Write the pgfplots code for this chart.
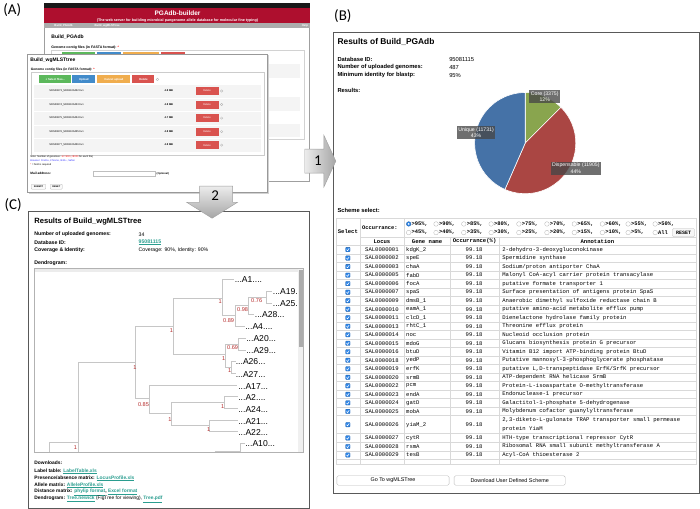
\documentclass[border=0pt]{standalone}
\usepackage{pgfplots}
\pgfplotsset{compat=1.18}
\usepackage{pgfplotstable}
\usepackage{fontspec}
\setmainfont{Liberation Sans}
\setmonofont{Liberation Mono}
\newfontfamily\carl{Carlito}
\newcommand\fs[1]{\fontsize{#1}{#1}\selectfont}
\definecolor{pgred}{HTML}{AE0F2E}
\definecolor{hcblue}{HTML}{4572A7}
\definecolor{hcred}{HTML}{AA4643}
\definecolor{hcgreen}{HTML}{89A54E}
\definecolor{linkteal}{HTML}{2A9D8F}
\definecolor{treered}{HTML}{B52A2A}
\definecolor{btngreen}{HTML}{5CB85C}
\definecolor{btnblue}{HTML}{428BCA}
\definecolor{btnorange}{HTML}{F0AD4E}
\definecolor{btnred}{HTML}{D9534F}
\definecolor{chkblue}{HTML}{2F86E8}
\pgfplotstableread{
name value
Core 3375
Dispensable 11905
Unique 11731
}\piedata
\newcommand\chk[1]{\filldraw[fill=chkblue,draw=chkblue!70!black,line width=0.3bp,rounded corners=0.6bp] (343.8,#1-2.2) rectangle (348.2,#1+2.2);\draw[white,line width=0.5bp] (344.7,#1+0.1) -- (345.7,#1+1.2) -- (347.4,#1-1.3);}
\newcommand\trow[4]{\chk{#1}\node[mono] at (380,#1) {#2};\node[mono,anchor=west] at (404,#1) {#3};\node[mono] at (472,#1) {99.18};\node[mono,anchor=west] at (500,#1) {#4};}
\newcommand\radio[3]{\draw[gray!60,fill=white,line width=0.3bp] (#1,#2) circle[radius=2.3bp];\node[anchor=west,inner sep=0pt,font=\fs{5.4}\ttfamily\bfseries] at (#1+2.8,#2) {#3};}
\newcommand\frow[3]{\fill[gray!9] (33,#1-6) rectangle (259,#1+6.5);\node[anchor=west,inner sep=0pt,font=\fs{2.6}] at (48,#1) {#2};\node[anchor=west,inner sep=0pt,font=\fs{2.6}\bfseries] at (163,#1) {#3};\fill[btnred] (194,#1-4) rectangle (217,#1+4);\node[font=\fs{2.6},white,inner sep=0pt] at (205.5,#1) {Delete};\draw[gray!60,line width=0.3bp] (220,#1) circle[radius=1.2bp];}
\begin{document}
\begin{tikzpicture}[
  tx/.style={anchor=west,inner sep=0pt},
  mono/.style={inner sep=0pt,font=\fs{5.6}\ttfamily},
  treeline/.style={color=gray!45,line width=0.8bp,no markers},
  bs/.style={inner sep=0pt,font=\fs{5.6},text=treered},
  leaf/.style={anchor=west,inner sep=0pt,font=\fs{8.6}},
  pielab/.style={fill=black!72,fill opacity=0.78,text opacity=1,text=white,inner sep=1.5bp,align=center,font=\fs{5.2}}]
\pgfplotstablegetelem{0}{value}\of\piedata \let\vA\pgfplotsretval
\pgfplotstablegetelem{1}{value}\of\piedata \let\vB\pgfplotsretval
\pgfplotstablegetelem{2}{value}\of\piedata \let\vC\pgfplotsretval
\pgfmathsetmacro\tot{\vA/1000+\vB/1000+\vC/1000}
\pgfmathsetmacro\aA{90-360*(\vA/1000)/\tot}
\pgfmathsetmacro\aB{\aA-360*(\vB/1000)/\tot}
\begin{axis}[scale only axis, width=700bp, height=508bp,
  xmin=0, xmax=700, ymin=0, ymax=508, y dir=reverse,
  hide axis, clip=false]
% ================= PANEL A =================
\node[font=\carl\fs{15}] at (11,9) {(A)};
% back window
\filldraw[fill=white,draw=gray!75,line width=0.6bp] (43,2) rectangle (308,180);
\fill[black!90] (43,2) rectangle (308,7);
\fill[pgred] (43,7) rectangle (308,22);
\node[font=\fs{6.5}\bfseries,white] at (176,12.5) {PGAdb-builder};
\node[font=\fs{3.7}\bfseries,white] at (176,19.3) {(The web server for building microbial pangenome allele database for molecular fine typing)};
\fill[gray!65] (43,22) rectangle (308,27);
\node[tx,font=\fs{2.8}\bfseries,white] at (53,24.5) {Build\_PGAdb};
\node[tx,font=\fs{2.8}\bfseries,white] at (93,24.5) {Build\_wgMLSTtree};
\node[tx,font=\fs{2.8}\bfseries,white] at (300,24.5) {Help};
\node[tx,font=\fs{5}\bfseries] at (50,36) {Build\_PGAdb};
\node[tx,font=\fs{3.5}\bfseries] at (50,47) {Genome contig files (in FASTA format): \textcolor{red}{*}};
\draw[gray!35,line width=0.5bp] (50,49.5) rectangle (302,138);
\fill[btngreen] (61,51) rectangle (94,56);
\fill[btnblue] (96,51) rectangle (120,56);
\fill[btnorange] (122,51) rectangle (158,56);
\fill[btnred] (160,51) rectangle (183,56);
\fill[gray!9] (265,63) rectangle (298,77);
\fill[gray!9] (265,96) rectangle (298,110);
\fill[gray!9] (265,123) rectangle (298,136);
% front window
\fill[gray!35] (27.5,54.5) rectangle (267.5,192.5);
\filldraw[fill=white,draw=gray!80,line width=0.6bp] (26,53) rectangle (266,191);
\node[tx,font=\fs{5}\bfseries] at (29,59.5) {Build\_wgMLSTtree};
\node[tx,font=\fs{3.3}\bfseries] at (29.5,69) {Genome contig files (in FASTA format): \textcolor{red}{*}};
\draw[gray!40,line width=0.5bp] (30,71) rectangle (263,154);
\fill[btngreen] (38,74.5) rectangle (70,82.5);
\node[font=\fs{2.8}\bfseries,white] at (54,78.5) {+ Select files...};
\fill[btnblue] (71,74.5) rectangle (94,82.5);
\node[font=\fs{2.8}\bfseries,white] at (82.5,78.5) {Upload};
\fill[btnorange] (96,74.5) rectangle (129,82.5);
\node[font=\fs{2.8}\bfseries,white] at (112.5,78.5) {Cancel upload};
\fill[btnred] (131,74.5) rectangle (153,82.5);
\node[font=\fs{2.8}\bfseries,white] at (142,78.5) {Delete};
\draw[gray!60,line width=0.3bp] (156,78.5) circle[radius=1.3bp];
\frow{90}{SRS00673\_SRR1106432.fa.1}{4.8 MB}
\frow{103.5}{SRS00674\_SRR1106433.fa.1}{4.8 MB}
\frow{117}{SRS00675\_SRR1106434.fa.1}{4.7 MB}
\frow{130.5}{SRS00676\_SRR1106435.fa.1}{4.8 MB}
\frow{144}{SRS00677\_SRR1106436.fa.1}{4.8 MB}
\node[tx,font=\fs{2.5}] at (29,156) {Note: Number of genomes: \textcolor{red}{3<=500 (<8000} for each file)};
\node[tx,font=\fs{2.5},text=blue!80] at (29,160) {Browser: Firefox, Chrome, IE11+, Safari};
\node[tx,font=\fs{2.5}] at (29,164) {\textcolor{red}{*} = field is required};
\node[tx,font=\fs{3.2}\bfseries] at (29,172) {Mail address:};
\draw[gray!50,line width=0.3bp] (92,170) rectangle (154,174.5);
\node[tx,font=\fs{2.6}\bfseries] at (155,172.3) {(Optional)};
\draw[gray!55,fill=gray!5,line width=0.3bp,rounded corners=0.8bp] (30,183) rectangle (44.5,188);
\node[font=\fs{2.4}\bfseries] at (37.2,185.5) {SUBMIT};
\draw[gray!55,fill=gray!5,line width=0.3bp,rounded corners=0.8bp] (49,183) rectangle (61,188);
\node[font=\fs{2.4}\bfseries] at (55,185.5) {RESET};
% ================= PANEL B =================
\node[font=\carl\fs{15}] at (341,15) {(B)};
\draw[gray!70!black,line width=0.9bp] (332,32) rectangle (697,492);
\node[tx,font=\fs{8.4}\bfseries] at (335.5,41) {Results of Build\_PGAdb};
\node[tx,font=\fs{5.8}\bfseries] at (335.5,58.5) {Database ID:};
\node[tx,font=\fs{5.8}\bfseries] at (335.5,66.5) {Number of uploaded genomes:};
\node[tx,font=\fs{5.8}\bfseries] at (335.5,74.5) {Minimum identity for blastp:};
\node[tx,font=\fs{5.8}] at (447,58.5) {95081115};
\node[tx,font=\fs{5.8}] at (447,66.5) {487};
\node[tx,font=\fs{5.8}] at (447,74.5) {95\%};
\node[tx,font=\fs{5.8}\bfseries] at (335.5,89.5) {Results:};
% pie
\filldraw[fill=hcgreen,draw=white,line width=0.6bp] (523,142) -- ++(90:50.5bp) arc[start angle=90,end angle=\aA,radius=50.5bp] -- cycle;
\filldraw[fill=hcred,draw=white,line width=0.6bp] (523,142) -- ++(\aA:50.5bp) arc[start angle=\aA,end angle=\aB,radius=50.5bp] -- cycle;
\filldraw[fill=hcblue,draw=white,line width=0.6bp] (523,142) -- ++(\aB:50.5bp) arc[start angle=\aB,end angle=-270,radius=50.5bp] -- cycle;
\node[pielab] at (542.5,95.5) {Core (3375)\\[1bp]12\%};
\node[pielab] at (474,131.5) {Unique (11731)\\[1bp]43\%};
\node[pielab] at (573.5,167) {Dispensable (11905)\\[1bp]44\%};
\node[tx,font=\fs{5.8}\bfseries] at (335.5,209.5) {Scheme select:};
% table grid
\draw[gray!30,line width=0.4bp] (334,217) rectangle (694,462);
\draw[gray!30,line width=0.4bp] (358,217) -- (358,462);
\draw[gray!30,line width=0.4bp] (402,217) -- (402,462);
\draw[gray!30,line width=0.4bp] (448,236) -- (448,462);
\draw[gray!30,line width=0.4bp] (497,236) -- (497,462);
\draw[gray!30,line width=0.4bp] (358,236) -- (694,236);
\pgfplotsinvokeforeach{0,...,20}{\draw[gray!30,line width=0.4bp] (334,244+8.5*#1) -- (694,244+8.5*#1);}
\draw[gray!30,line width=0.4bp] (334,432) -- (694,432);
\draw[gray!30,line width=0.4bp] (334,440.5) -- (694,440.5);
\draw[gray!30,line width=0.4bp] (334,449) -- (694,449);
\draw[gray!30,line width=0.4bp] (334,457.5) -- (694,457.5);
\node[font=\fs{5.6}\ttfamily\bfseries,inner sep=0pt] at (346,230.5) {Select};
\node[tx,font=\fs{5.4}\ttfamily\bfseries] at (360,226.5) {Occurrance:};
\filldraw[fill=chkblue,draw=chkblue!70!black,line width=0.3bp] (406.7,222.7) circle[radius=2.3bp];
\fill[white] (406.7,222.7) circle[radius=0.9bp];
\node[anchor=west,inner sep=0pt,font=\fs{5.4}\ttfamily\bfseries] at (409.5,222.7) {>95\%,};
\radio{434}{222.7}{>90\%,}
\radio{461.7}{222.7}{>85\%,}
\radio{489}{222.7}{>80\%,}
\radio{516.7}{222.7}{>75\%,}
\radio{544.7}{222.7}{>70\%,}
\radio{572}{222.7}{>65\%,}
\radio{600}{222.7}{>60\%,}
\radio{625.7}{222.7}{>55\%,}
\radio{652.7}{222.7}{>50\%,}
\radio{406.7}{231.3}{>45\%,}
\radio{434}{231.3}{>40\%,}
\radio{461.7}{231.3}{>35\%,}
\radio{489}{231.3}{>30\%,}
\radio{516.7}{231.3}{>25\%,}
\radio{544.7}{231.3}{>20\%,}
\radio{572}{231.3}{>15\%,}
\radio{600}{231.3}{>10\%,}
\radio{625.7}{231.3}{>5\%,}
\radio{652.7}{231.3}{All}
\draw[gray!55,fill=gray!6,line width=0.3bp,rounded corners=1bp] (670,227.3) rectangle (692,235.3);
\node[font=\fs{5}\ttfamily\bfseries,inner sep=0pt] at (681,231.3) {RESET};
\node[font=\fs{5.6}\ttfamily\bfseries,inner sep=0pt] at (380,240) {Locus};
\node[font=\fs{5.6}\ttfamily\bfseries,inner sep=0pt] at (425,240) {Gene name};
\node[font=\fs{5.6}\ttfamily\bfseries,inner sep=0pt] at (472.5,240) {Occurrance(\%)};
\node[font=\fs{5.6}\ttfamily\bfseries,inner sep=0pt] at (595,240) {Annotation};
\trow{248.25}{SAL0000001}{kdgK\_2}{2-dehydro-3-deoxygluconokinase}
\trow{256.75}{SAL0000002}{speE}{Spermidine synthase}
\trow{265.25}{SAL0000003}{chaA}{Sodium/proton antiporter ChaA}
\trow{273.75}{SAL0000005}{fabD}{Malonyl CoA-acyl carrier protein transacylase}
\trow{282.25}{SAL0000006}{focA}{putative formate transporter 1}
\trow{290.75}{SAL0000007}{spaS}{Surface presentation of antigens protein SpaS}
\trow{299.25}{SAL0000009}{dmsB\_1}{Anaerobic dimethyl sulfoxide reductase chain B}
\trow{307.75}{SAL0000010}{eamA\_1}{putative amino-acid metabolite efflux pump}
\trow{316.25}{SAL0000011}{clcD\_1}{Dienelactone hydrolase family protein}
\trow{324.75}{SAL0000013}{rhtC\_1}{Threonine efflux protein}
\trow{333.25}{SAL0000014}{noc}{Nucleoid occlusion protein}
\trow{341.75}{SAL0000015}{mdoG}{Glucans biosynthesis protein G precursor}
\trow{350.25}{SAL0000016}{btuD}{Vitamin B12 import ATP-binding protein BtuD}
\trow{358.75}{SAL0000018}{yedP}{Putative mannosyl-3-phosphoglycerate phosphatase}
\trow{367.25}{SAL0000019}{erfK}{putative L,D-transpeptidase ErfK/SrfK precursor}
\trow{375.75}{SAL0000020}{srmB}{ATP-dependent RNA helicase SrmB}
\trow{384.25}{SAL0000022}{pcm}{Protein-L-isoaspartate O-methyltransferase}
\trow{392.75}{SAL0000023}{endA}{Endonuclease-1 precursor}
\trow{401.25}{SAL0000024}{gatD}{Galactitol-1-phosphate 5-dehydrogenase}
\trow{409.75}{SAL0000025}{mobA}{Molybdenum cofactor guanylyltransferase}
\chk{423}
\node[mono] at (380,423) {SAL0000026};
\node[mono,anchor=west] at (404,423) {yiaM\_2};
\node[mono] at (472,423) {99.18};
\node[mono,anchor=west] at (500,418.8) {2,3-diketo-L-gulonate TRAP transporter small permease};
\node[mono,anchor=west] at (500,427.2) {protein YiaM};
\trow{436.25}{SAL0000027}{cytR}{HTH-type transcriptional repressor CytR}
\trow{444.75}{SAL0000028}{rsmA}{Ribosomal RNA small subunit methyltransferase A}
\trow{453.25}{SAL0000029}{tesB}{Acyl-CoA thioesterase 2}
\draw[gray!55,fill=white,line width=0.4bp,rounded corners=1.5bp] (335,474) rectangle (447,483.5);
\node[font=\fs{5.4},inner sep=0pt] at (391,478.8) {Go To wgMLSTree};
\draw[gray!55,fill=white,line width=0.4bp,rounded corners=1.5bp] (452,474) rectangle (563,483.5);
\node[font=\fs{5.4},inner sep=0pt] at (507.5,478.8) {Download User Defined Scheme};
% ================= PANEL C =================
\node[font=\carl\fs{15}] at (12,203.5) {(C)};
\draw[gray!70!black,line width=0.9bp] (27,210) rectangle (308,506.5);
\node[tx,font=\fs{7.6}\bfseries] at (33,220.5) {Results of Build\_wgMLSTtree};
\node[tx,font=\fs{5.2}\bfseries] at (33,233) {Number of uploaded genomes:};
\node[tx,font=\fs{5.2}\bfseries] at (33,241) {Database ID:};
\node[tx,font=\fs{5.2}\bfseries] at (33,249) {Coverage \& Identity:};
\node[tx,font=\fs{5.2}] at (137,233) {34};
\node[tx,font=\fs{5.2}\bfseries,text=linkteal] at (137,241) {\underline{95081115}};
\node[tx,font=\fs{5.2}] at (137,249) {Coverage: 90\%, Identity: 90\%};
\node[tx,font=\fs{5.2}\bfseries] at (33,262) {Dendrogram:};
\fill[gray!15] (34,268) rectangle (296,271);
% tree
\addplot[treeline] coordinates {(48,451) (48,441) (77,441)};
\addplot[treeline] coordinates {(134,361) (77,361) (77,451)};
\addplot[treeline] coordinates {(172,325) (134,325) (134,397) (148,397)};
\addplot[treeline] coordinates {(221,297) (172,297) (172,353) (224,353)};
\addplot[treeline] coordinates {(232,278) (221,278) (221,314) (234,314)};
\addplot[treeline] coordinates {(247,304) (234,304) (234,325) (243,325)};
\addplot[treeline] coordinates {(265,296) (247,296) (247,313) (252,313)};
\addplot[treeline] coordinates {(270,290) (265,290) (265,302) (270,302)};
\addplot[treeline] coordinates {(237,343) (224,343) (224,366) (230,366)};
\addplot[treeline] coordinates {(244,337) (237,337) (237,349) (244,349)};
\addplot[treeline] coordinates {(234,360) (230,360) (230,372) (234,372)};
\addplot[treeline] coordinates {(235,384) (148,384) (148,412) (170,412)};
\addplot[treeline] coordinates {(223,401) (170,401) (170,424) (208,424)};
\addplot[treeline] coordinates {(236,395) (223,395) (223,407) (236,407)};
\addplot[treeline] coordinates {(236,419) (208,419) (208,430) (236,430)};
\addplot[treeline] coordinates {(243,442) (239,442) (239,451)};
\addplot[treeline] coordinates {(213,450) (239,450)};
\begin{scope}
\clip (34,268) rectangle (296,450);
\node[leaf] at (233,278) {...A1....};
\node[leaf] at (271,290) {...A19...};
\node[leaf] at (271,302) {...A25...};
\node[leaf] at (253,313.5) {...A28...};
\node[leaf] at (243.5,325.5) {...A4....};
\node[leaf] at (244.5,337.5) {...A20...};
\node[leaf] at (244.5,349.5) {...A29...};
\node[leaf] at (234,360.5) {...A26...};
\node[leaf] at (234,372.5) {...A27...};
\node[leaf] at (236.5,384.5) {...A17...};
\node[leaf] at (236.5,395.5) {...A2....};
\node[leaf] at (236.5,407.5) {...A24...};
\node[leaf] at (236.5,419.5) {...A21...};
\node[leaf] at (236.5,430.5) {...A22...};
\node[leaf] at (243.5,442) {...A10...};
\end{scope}
\node[bs] at (218.5,300) {1};
\node[bs] at (255,299) {0.76};
\node[bs] at (241,308.5) {0.98};
\node[bs] at (227,319.5) {0.89};
\node[bs] at (170,329) {1};
\node[bs] at (133.5,366) {1};
\node[bs] at (231,346.5) {0.69};
\node[bs] at (222,357.5) {1};
\node[bs] at (228,369.5) {1};
\node[bs] at (142,402.5) {0.85};
\node[bs] at (168.5,417.5) {1};
\node[bs] at (221,404.5) {1};
\node[bs] at (207,428) {1};
\node[bs] at (74,446) {1};
\fill[gray!12] (296,268) rectangle (301.5,450);
\fill[gray!65] (297,268.5) rectangle (301,345);
\draw[gray!60,line width=1.1bp] (33,267) rectangle (302,451);
\node[tx,font=\fs{4.9}\bfseries] at (33,461.5) {Downloads:};
\node[tx,font=\fs{4.9}\bfseries] at (33,469.5) {Label table: \textcolor{linkteal}{\underline{LabelTable.xls}}};
\node[tx,font=\fs{4.9}\bfseries] at (33,476.5) {Presence/absence matrix: \textcolor{linkteal}{\underline{LocusProfile.xls}}};
\node[tx,font=\fs{4.9}\bfseries] at (33,483.5) {Allele matrix: \textcolor{linkteal}{\underline{AlleleProfile.xls}}};
\node[tx,font=\fs{4.9}\bfseries] at (33,490.5) {Distance matrix: \textcolor{linkteal}{\underline{phylip format}}, \textcolor{linkteal}{\underline{Excel format}}};
\node[tx,font=\fs{4.9}\bfseries] at (33,497.5) {Dendrogram: \textcolor{linkteal}{\underline{Tree.newick}} \mdseries(FigTree for viewing), \bfseries\textcolor{linkteal}{\underline{Tree.pdf}}};
% ================= ARROWS =================
\shade[left color=gray!15,right color=gray!70,draw=gray!75,line width=0.4bp] (303,148) -- (322,148) -- (322,134) -- (334,160) -- (322,186) -- (322,172) -- (303,172) -- cycle;
\node[font=\carl\fs{15}] at (316,159.5) {1};
\shade[top color=gray!15,bottom color=gray!70,draw=gray!75,line width=0.4bp] (198,185) -- (231,185) -- (231,201) -- (236,201) -- (210.5,217) -- (185,201) -- (198,201) -- cycle;
\node[font=\carl\fs{15}] at (213.5,194) {2};
\end{axis}
\end{tikzpicture}
\end{document}
